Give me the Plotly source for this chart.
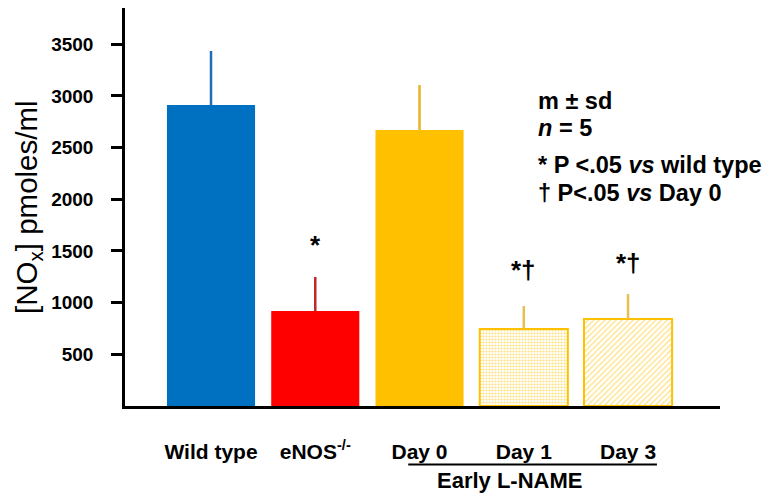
import plotly.graph_objects as go

categories = ["Wild type", "eNOS-/-", "Day 0", "Day 1", "Day 3"]
tick_labels = ["Wild type", "eNOS<sup>-/-</sup>", "Day 0", "Day 1", "Day 3"]
means = [2912, 919, 2670, 745, 842]
sd = [522, 329, 435, 222, 241]
bar_colors = ["#0070C0", "#FF0000", "#FFC000", "#FFFFFF", "#FFFFFF"]
err_colors = ["#1F6DB8", "#C0282B", "#E8B424", "#E8C050", "#E8C050"]
patterns = ["", "", "", ".", "/"]
sig_marks = ["", "*", "", "*†", "*†"]
sig_heights = [0, 1557, 0, 1315, 1383]
y_ticks = [500, 1000, 1500, 2000, 2500, 3000, 3500]

FONT = "Liberation Sans, Arial, sans-serif"

fig = go.Figure()
for i, cat in enumerate(categories):
    if patterns[i]:
        pat = dict(shape=patterns[i], fgcolor="#FFC000", bgcolor="#FFFFFF",
                   size=3 if patterns[i] == "." else 4,
                   solidity=0.4 if patterns[i] == "." else 0.3)
    else:
        pat = dict(shape="")
    fig.add_trace(go.Bar(
        x=[cat], y=[means[i]], width=0.845,
        marker=dict(color=bar_colors[i], pattern=pat,
                    line=dict(color="#FFC000" if patterns[i] else bar_colors[i],
                              width=2 if patterns[i] else 0)),
        error_y=dict(type="data", symmetric=False, array=[sd[i]], arrayminus=[0],
                     color=err_colors[i], thickness=2.5, width=0),
        showlegend=False, hoverinfo="skip",
    ))

for i, cat in enumerate(categories):
    if sig_marks[i]:
        fig.add_annotation(x=cat, y=sig_heights[i], text="<b>" + sig_marks[i] + "</b>",
                           showarrow=False, font=dict(family=FONT, size=26, color="black"),
                           xanchor="center", yanchor="middle")

legend_lines = ["<b>m ± sd</b>", "<b><i>n</i> = 5</b>",
                "<b>* P &lt;.05 <i>vs</i> wild type</b>", "<b>† P&lt;.05 <i>vs</i> Day 0</b>"]
legend_y = [0.767, 0.699, 0.605, 0.535]
for txt, yy in zip(legend_lines, legend_y):
    fig.add_annotation(xref="paper", yref="paper", x=0.691, y=yy, text=txt, showarrow=False,
                       xanchor="left", yanchor="middle",
                       font=dict(family=FONT, size=23.5, color="black"))

fig.add_annotation(xref="paper", yref="paper", x=0.647, y=-0.188, text="<b>Early L-NAME</b>",
                   showarrow=False, xanchor="center", yanchor="middle",
                   font=dict(family=FONT, size=22, color="black"))
fig.add_annotation(xref="paper", yref="paper", x=-0.163, y=0.5, text="[NO<sub>x</sub>] pmoles/ml",
                   textangle=-90, showarrow=False, xanchor="center", yanchor="middle",
                   font=dict(family=FONT, size=29.5, color="black"))
fig.add_shape(type="line", xref="paper", yref="paper", x0=0.476, x1=0.894, y0=-0.147, y1=-0.147,
              line=dict(color="black", width=2))

fig.update_layout(
    width=768, height=490, barmode="overlay",
    margin=dict(l=117, r=56, t=0, b=92),
    plot_bgcolor="white", paper_bgcolor="white",
    font=dict(family=FONT, color="black"),
    xaxis=dict(type="category", categoryorder="array", categoryarray=categories,
               tickvals=categories, ticktext=["<b>" + t + "</b>" for t in tick_labels],
               range=[-0.825, 4.882], showline=True, linecolor="black", linewidth=2.5,
               ticks="", tickfont=dict(family=FONT, size=21, color="black"),
               ticklabelstandoff=25, showgrid=False, zeroline=False),
    yaxis=dict(range=[0, 3850], tickvals=y_ticks,
               ticktext=["<b>%d</b>" % v for v in y_ticks],
               showline=True, linecolor="black", linewidth=2.5, ticks="outside", ticklen=11,
               tickwidth=2.5, tickcolor="black", tickfont=dict(family=FONT, size=19, color="black"),
               ticklabelstandoff=14, showgrid=False, zeroline=False),
)

fig.write_html("out.html")
